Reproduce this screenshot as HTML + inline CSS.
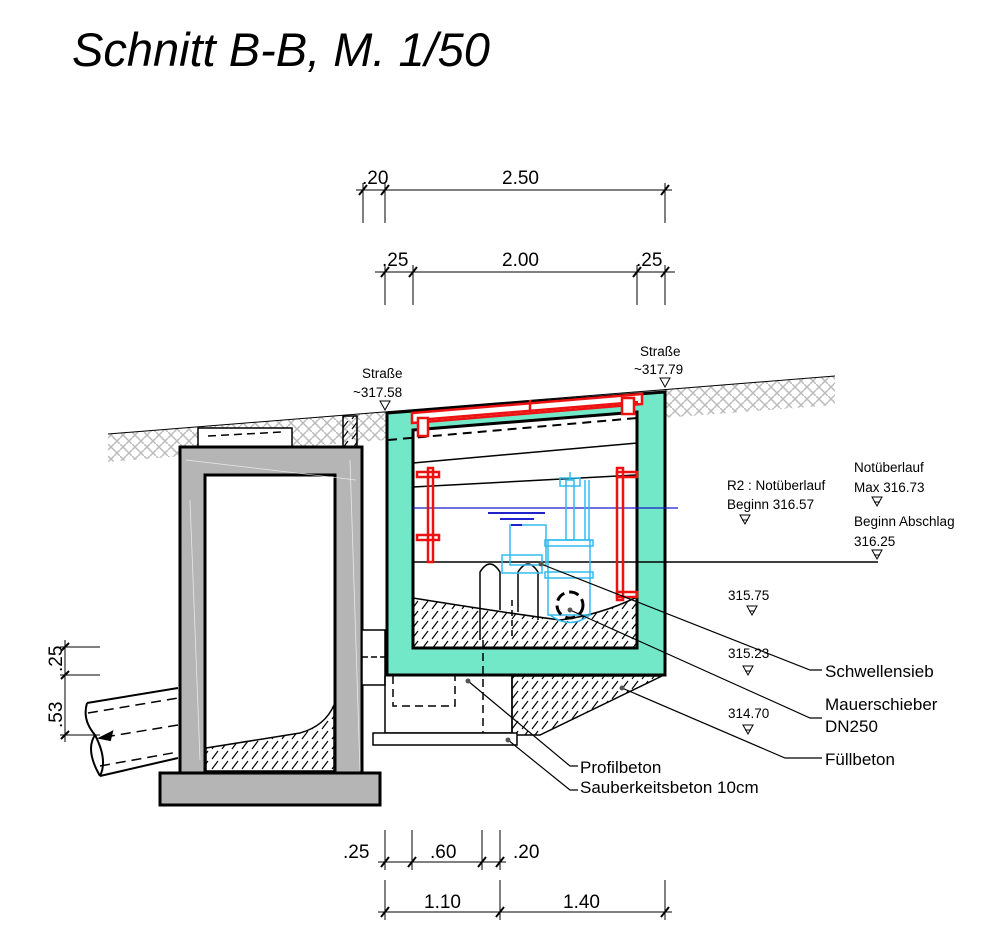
<!DOCTYPE html>
<html><head><meta charset="utf-8"><style>
body{margin:0;background:#fff}
svg{display:block}
text{font-family:"Liberation Sans",sans-serif;fill:#000}
</style></head><body>
<svg width="1000" height="931" viewBox="0 0 1000 931" xmlns="http://www.w3.org/2000/svg">
<defs>
<pattern id="h" width="10" height="10" patternUnits="userSpaceOnUse">
<path d="M2 9 L8 1" stroke="#000" stroke-width="1.2"/>
</pattern>
<pattern id="g" width="12" height="12" patternUnits="userSpaceOnUse">
<path d="M0 6 L6 0 M6 12 L12 6 M0 0 L12 12" stroke="#bbb" stroke-width="1.5"/>
</pattern>
</defs>
<text x="72" y="66" font-size="47" font-style="italic">Schnitt B-B, M. 1/50</text>

<!-- top dimensions -->
<g stroke="#000" stroke-width="1" fill="none">
<line x1="356" y1="190" x2="672" y2="190"/>
<line x1="363" y1="183" x2="363" y2="223"/><line x1="385" y1="183" x2="385" y2="223"/><line x1="665" y1="183" x2="665" y2="223"/>
<line x1="375" y1="272" x2="675" y2="272"/>
<line x1="385" y1="265" x2="385" y2="305"/><line x1="413" y1="265" x2="413" y2="305"/><line x1="637" y1="265" x2="637" y2="305"/><line x1="665" y1="265" x2="665" y2="305"/>
<g stroke-width="2"><path d="M359 195l8-10M381 195l8-10M661 195l8-10M381 277l8-10M409 277l8-10M633 277l8-10M661 277l8-10"/></g>
</g>
<text x="362" y="184" font-size="19">.20</text>
<text x="502" y="184" font-size="19">2.50</text>
<text x="382" y="266" font-size="19">.25</text>
<text x="502" y="266" font-size="19">2.00</text>
<text x="636" y="266" font-size="19">.25</text>

<!-- ground -->
<polygon points="108,434 835,376 835,405 662,418 385,440 108,462" fill="url(#g)"/>
<line x1="108" y1="434" x2="835" y2="376" stroke="#000" stroke-width="1"/>
<g stroke="#000" stroke-width="1.5" fill="#fff">
<rect x="198" y="428" width="94" height="20"/>
<line x1="208" y1="436" x2="282" y2="432" stroke-dasharray="8 5"/>
<rect x="343" y="416" width="14" height="32" fill="url(#h)"/>
</g>

<!-- left chamber -->
<rect x="180" y="447" width="182" height="328" fill="#b5b5b5" stroke="#000" stroke-width="3"/>
<rect x="160" y="773" width="220" height="32" fill="#b5b5b5" stroke="#000" stroke-width="3"/>
<rect x="205" y="475" width="130" height="298" fill="#fff" stroke="#000" stroke-width="3"/>
<path d="M206 748 L300 733 Q325 726 334 705 L334 771 L206 771 Z" fill="url(#h)" stroke="#000" stroke-width="1.5"/>
<path d="M186 460 L356 480 M350 460 L360 770 M190 500 L200 760" stroke="#fff" stroke-width="0.8" fill="none" opacity="0.7"/>

<!-- pipe -->
<g stroke="#000" stroke-width="2" fill="none">
<line x1="87" y1="703" x2="178" y2="688"/>
<line x1="100" y1="776" x2="178" y2="758"/>
<path d="M87 703 Q82 720 95 735 Q108 760 100 776"/>
<path d="M95 735 Q85 750 100 776"/>
<line x1="88" y1="713" x2="178" y2="698" stroke-dasharray="10 6" stroke-width="1.5"/>
<line x1="100" y1="766" x2="178" y2="752" stroke-dasharray="10 6" stroke-width="1.5"/>
<line x1="105" y1="737" x2="178" y2="725" stroke-dasharray="10 6" stroke-width="1.5"/>
<path d="M100 738 l12 -6 l-2 8z" fill="#000"/>
</g>
<g stroke="#000" stroke-width="1">
<line x1="65" y1="640" x2="65" y2="742"/>
<line x1="60" y1="647" x2="100" y2="647"/><line x1="60" y1="675" x2="100" y2="675"/><line x1="60" y1="735" x2="100" y2="735"/>
<path d="M61 651l8-8M61 679l8-8M61 739l8-8" stroke-width="2"/>
</g>
<text transform="translate(62,672) rotate(-90)" font-size="19">.25</text>
<text transform="translate(62,728) rotate(-90)" font-size="19">.53</text>

<g stroke="#000" stroke-width="1.5" fill="#fff">
<rect x="362" y="630" width="23" height="55"/>
<line x1="362" y1="657" x2="385" y2="657" stroke-dasharray="6 3"/>
</g>

<!-- right chamber -->
<polygon points="387,413 665,392 665,675 387,675" fill="#72e8c9" stroke="#000" stroke-width="3"/>
<polygon points="413,430 637,412 637,648 413,648" fill="#fff" stroke="#000" stroke-width="3"/>
<path d="M413 598 Q500 612 560 620 Q600 615 637 597 L637 648 L413 648 Z" fill="url(#h)" stroke="#000" stroke-width="1.5"/>
<line x1="388" y1="440" x2="637" y2="418" stroke="#000" stroke-width="2" stroke-dasharray="9 6"/>
<line x1="413" y1="463" x2="637" y2="443" stroke="#000" stroke-width="1.5"/>
<line x1="413" y1="487" x2="637" y2="475" stroke="#000" stroke-width="1.5"/>
<line x1="413" y1="508" x2="678" y2="508" stroke="#1a1ac8" stroke-width="1.3"/>
<line x1="413" y1="562" x2="878" y2="562" stroke="#000" stroke-width="1.5"/>
<g stroke="#000" stroke-width="1.5" fill="none">
<path d="M480 640 L480 572 Q490 556 500 572 L500 610"/>
<path d="M518 612 L518 572 Q528 556 538 572 L538 620" />
<line x1="483" y1="640" x2="483" y2="735" stroke-dasharray="8 5"/>
<line x1="512" y1="600" x2="512" y2="640" stroke-dasharray="6 4"/>
</g>
<!-- red cover -->
<g stroke="#ee1111" stroke-width="2.5" fill="none">
<polygon points="412,413 642,394 642,404 412,423" fill="#fff"/>
<line x1="418" y1="420" x2="638" y2="402"/>
<rect x="418" y="418" width="10" height="18" fill="#fff"/><rect x="622" y="398" width="12" height="16" fill="#fff"/>
<line x1="530" y1="400" x2="530" y2="410"/>
<rect x="428" y="468" width="5" height="94"/><rect x="417" y="472" width="22" height="5"/><rect x="417" y="535" width="22" height="5"/>
<rect x="617" y="468" width="6" height="132"/><rect x="617" y="472" width="20" height="5"/><rect x="617" y="592" width="20" height="5"/>
</g>
<g stroke="#33bbee" stroke-width="1.5" fill="none">
<rect x="510" y="525" width="36" height="40"/>
<rect x="502" y="555" width="40" height="18"/>
<rect x="548" y="540" width="42" height="75"/>
<rect x="545" y="540" width="48" height="6"/><rect x="545" y="572" width="48" height="6"/>
<rect x="566" y="480" width="8" height="60"/>
<line x1="570" y1="472" x2="570" y2="480"/>
<rect x="560" y="478" width="20" height="8"/>
<line x1="585" y1="480" x2="585" y2="540"/><line x1="589" y1="480" x2="589" y2="540"/>
<path d="M550 615 Q570 630 590 615"/>
</g>
<g stroke="#2222cc" stroke-width="2"><line x1="488" y1="513" x2="545" y2="513"/><line x1="500" y1="519" x2="534" y2="519"/><line x1="511" y1="525" x2="522" y2="525"/></g>
<circle cx="570" cy="605" r="13" fill="none" stroke="#000" stroke-width="3" stroke-dasharray="10 5"/>

<polygon points="512,676 662,676 540,735 512,735" fill="url(#h)" stroke="#000" stroke-width="1.5"/>
<polyline points="385,676 385,733 512,733 512,676" fill="none" stroke="#000" stroke-width="1.5"/>
<rect x="373" y="733" width="144" height="12" fill="#fff" stroke="#000" stroke-width="1.5"/>
<polyline points="393,676 393,706 455,706 455,676" fill="none" stroke="#000" stroke-width="1.5" stroke-dasharray="8 5"/>

<g stroke="#000" stroke-width="1.2" fill="none">
<polyline points="541,564 810,670 822,670"/>
<polyline points="570,610 810,718 822,718"/>
<polyline points="622,688 785,758 822,758"/>
<polyline points="468,681 570,766 578,766"/>
<polyline points="508,740 570,790 578,790"/>
</g>
<g fill="#555"><circle cx="541" cy="564" r="2.5"/><circle cx="570" cy="610" r="2.5"/><circle cx="622" cy="688" r="2.5"/><circle cx="468" cy="681" r="2.5"/><circle cx="508" cy="740" r="2.5"/></g>

<g font-size="17">
<text x="825" y="677">Schwellensieb</text>
<text x="825" y="710">Mauerschieber</text>
<text x="825" y="732">DN250</text>
<text x="825" y="765">Füllbeton</text>
<text x="580" y="773">Profilbeton</text>
<text x="580" y="793">Sauberkeitsbeton 10cm</text>
</g>
<g font-size="13.5">
<text x="362" y="378">Straße</text><text x="353" y="397">~317.58</text>
<text x="640" y="356">Straße</text><text x="634" y="374">~317.79</text>
<text x="727" y="490">R2 : Notüberlauf</text><text x="727" y="509">Beginn 316.57</text>
<text x="854" y="472">Notüberlauf</text><text x="854" y="492">Max 316.73</text>
<text x="854" y="526">Beginn Abschlag</text><text x="854" y="546">316.25</text>
<text x="728" y="600">315.75</text><text x="728" y="658">315.23</text><text x="728" y="718">314.70</text>
</g>
<g fill="none" stroke="#000" stroke-width="1">
<path d="M380 401h10l-5 9z M660 378h10l-5 9z M740 515h10l-5 9z M872 497h10l-5 9z M872 550h10l-5 9z M747 606h10l-5 9z M743 666h10l-5 9z M743 725h10l-5 9z"/>
<path d="M742 520h6 M874 502h6 M874 555h6 M749 611h6 M745 671h6 M745 730h6"/>
</g>

<g stroke="#000" stroke-width="1">
<line x1="378" y1="862" x2="506" y2="862"/>
<line x1="385" y1="830" x2="385" y2="870"/><line x1="412" y1="830" x2="412" y2="870"/><line x1="482" y1="830" x2="482" y2="870"/><line x1="500" y1="830" x2="500" y2="870"/>
<line x1="378" y1="912" x2="672" y2="912"/>
<line x1="385" y1="880" x2="385" y2="920"/><line x1="500" y1="880" x2="500" y2="920"/><line x1="665" y1="880" x2="665" y2="920"/>
<path d="M381 867l8-10M408 867l8-10M478 867l8-10M496 867l8-10M381 917l8-10M496 917l8-10M661 917l8-10" stroke-width="2"/>
</g>
<g font-size="19">
<text x="343" y="858">.25</text><text x="430" y="858">.60</text><text x="513" y="858">.20</text>
<text x="424" y="908">1.10</text><text x="563" y="908">1.40</text>
</g>
</svg>
</body></html>
